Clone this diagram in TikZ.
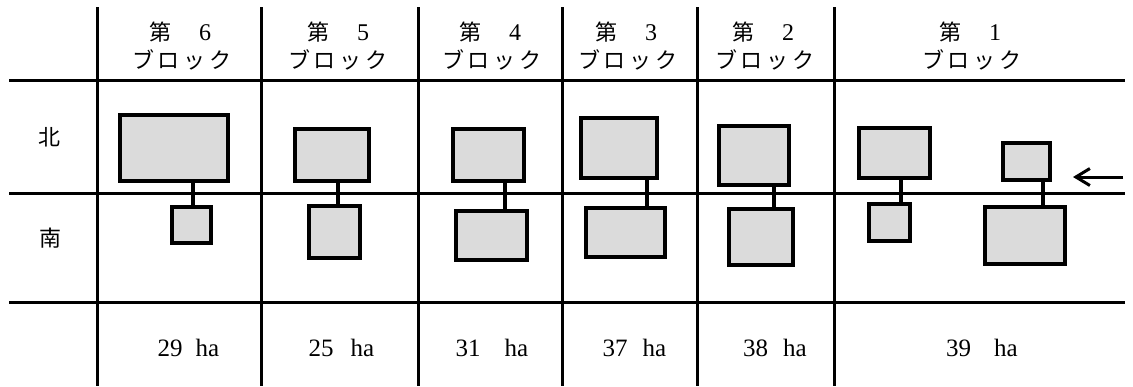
\documentclass[tikz,border=0pt]{standalone}
\usepackage{fontspec}
\setmainfont{Liberation Serif}
\newfontfamily\jp{Noto Sans CJK JP}
\usetikzlibrary{arrows.meta}
\tikzset{
  grid/.style={line width=3pt},
  plot/.style={draw, line width=4pt, fill=black!14, inner sep=0pt, minimum width=#1},
  plot/.default=40pt,
  link/.style={line width=3.2pt},
  head/.style={font=\jp\fontsize{22}{24}\selectfont, inner sep=0pt},
  rowlab/.style={font=\jp\fontsize{22}{24}\selectfont, inner sep=0pt},
  area/.style={font=\fontsize{25}{27}\selectfont, inner sep=0pt},
  arrowline/.style={line width=3pt, -{Straight Barb[length=14pt,width=17pt,line width=3pt]}}
}
\newcommand{\blockhead}[4]{%
  \node[head, anchor=base] (#1a) at (#2,40) {第\hspace{28pt}\fontspec{Liberation Serif}\fontsize{24}{26}\selectfont #3};
  \node[head] (#1b) at (#4,60) {ブ\hspace{4pt}ロ\hspace{4pt}ッ\hspace{4pt}ク};
}
\begin{document}
\begin{tikzpicture}[x=1pt,y=-1pt]
\useasboundingbox (0,0) rectangle (1133,386);
% grid
\foreach \xx in {97,261,418,562,697,834} \draw[grid] (\xx,7) -- (\xx,386);
\foreach \yy in {80,193,302} \draw[grid] (9,\yy) -- (1125,\yy);
% headers
\blockhead{h6}{180}{6}{182}
\blockhead{h5}{338}{5}{338}
\blockhead{h4}{490}{4}{492}
\blockhead{h3}{626}{3}{628}
\blockhead{h2}{763}{2}{765}
\blockhead{h1}{970}{1}{972}
% row labels
\node[rowlab] (north) at (49,137) {北};
\node[rowlab] (south) at (50,238) {南};
% boxes
\node[plot=108pt, minimum height=66pt] (n6) at (174,148) {};
\node[plot=39pt, minimum height=36pt] (s6) at (191.5,225) {};
\node[plot=74pt, minimum height=52pt] (n5) at (332,155) {};
\node[plot=51pt, minimum height=52pt] (s5) at (334.5,232) {};
\node[plot=71pt, minimum height=52pt] (n4) at (488.5,155) {};
\node[plot=71pt, minimum height=49pt] (s4) at (491.5,235.5) {};
\node[plot=76pt, minimum height=60pt] (n3) at (619,148) {};
\node[plot=79pt, minimum height=49pt] (s3) at (625.5,232.5) {};
\node[plot=70pt, minimum height=59pt] (n2) at (754,155.5) {};
\node[plot=64pt, minimum height=56pt] (s2) at (761,237) {};
\node[plot=71pt, minimum height=50pt] (n1a) at (894.5,153) {};
\node[plot=41pt, minimum height=37pt] (s1a) at (889.5,222.5) {};
\node[plot=47pt, minimum height=37pt] (n1b) at (1026.5,161.5) {};
\node[plot=80pt, minimum height=57pt] (s1b) at (1025,235.5) {};
% connectors
\foreach \n/\s/\cx in {n6/s6/193,n5/s5/338,n4/s4/505,n3/s3/647,n2/s2/774,n1a/s1a/901,n1b/s1b/1043}{
  \coordinate (c\n) at (\cx,0);
  \draw[link] (\n.south -| c\n) -- (\s.north -| c\n);
}
% arrow
\coordinate (arS) at (1123,177);
\coordinate (arE) at (1073,177);
\draw[arrowline] (arS) -- (arE);
% areas
\node[area, anchor=base] (a6) at (188.5,356) {29\hspace{13pt}ha};
\node[area, anchor=base] (a5) at (341.5,356) {25\hspace{17pt}ha};
\node[area, anchor=base] (a4) at (492,356) {31\hspace{24pt}ha};
\node[area, anchor=base] (a3) at (634.5,356) {37\hspace{15pt}ha};
\node[area, anchor=base] (a2) at (775,356) {38\hspace{15pt}ha};
\node[area, anchor=base] (a1) at (982,356) {39\hspace{23pt}ha};
\end{tikzpicture}
\end{document}
